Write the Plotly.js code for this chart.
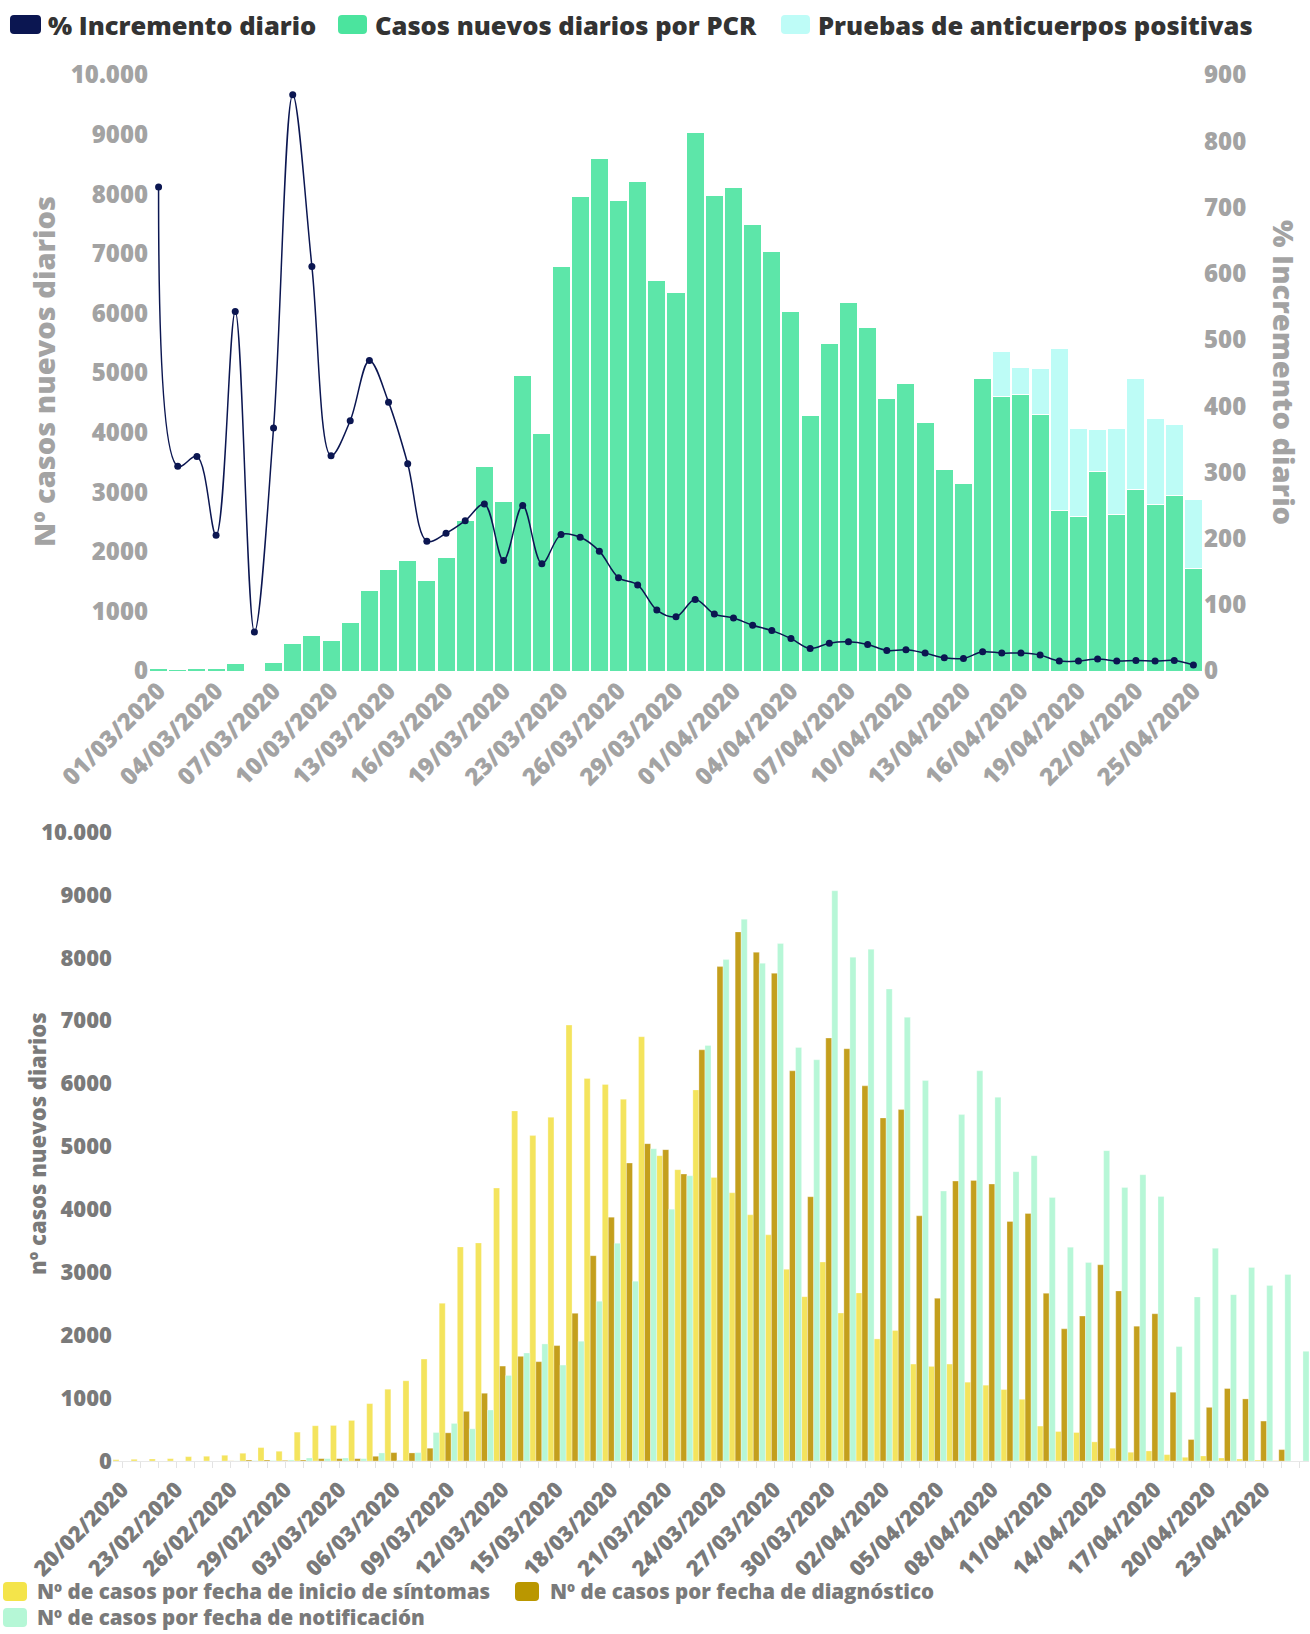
<!DOCTYPE html>
<html>
<head>
<meta charset="utf-8">
<script src="https://cdn.plot.ly/plotly-3.0.1.min.js"></script>
<style>
  html, body { margin: 0; padding: 0; background: #ffffff; }
  #wrap { position: relative; width: 1310px; height: 1634px; overflow: hidden; }
  #top { position: absolute; left: 0; top: 0; width: 1310px; height: 800px; }
  #bottom { position: absolute; left: 0; top: 800px; width: 1310px; height: 834px; }
</style>
</head>
<body>
<div id="wrap">
  <div id="top"></div>
  <div id="bottom"></div>
</div>
<script>
// ---------------- DATA: top chart ----------------
const topDates = [
  '01/03/2020','02/03/2020','03/03/2020','04/03/2020','05/03/2020','06/03/2020','07/03/2020',
  '08/03/2020','09/03/2020','10/03/2020','11/03/2020','12/03/2020','13/03/2020','14/03/2020',
  '15/03/2020','16/03/2020','17/03/2020','18/03/2020','19/03/2020','20/03/2020','21/03/2020',
  '23/03/2020','24/03/2020','25/03/2020','26/03/2020','27/03/2020','28/03/2020','29/03/2020',
  '30/03/2020','31/03/2020','01/04/2020','02/04/2020','03/04/2020','04/04/2020','05/04/2020',
  '06/04/2020','07/04/2020','08/04/2020','09/04/2020','10/04/2020','11/04/2020','12/04/2020',
  '13/04/2020','14/04/2020','15/04/2020','16/04/2020','17/04/2020','18/04/2020','19/04/2020',
  '20/04/2020','21/04/2020','22/04/2020','23/04/2020','24/04/2020','25/04/2020'
];
const topTickLabels = [
  '01/03/2020','04/03/2020','07/03/2020','10/03/2020','13/03/2020','16/03/2020','19/03/2020',
  '23/03/2020','26/03/2020','29/03/2020','01/04/2020','04/04/2020','07/04/2020','10/04/2020',
  '13/04/2020','16/04/2020','19/04/2020','22/04/2020','25/04/2020'
];
const casosPCR = [
  45, 30, 45, 40, 130, 15, 145, 460, 600, 510,
  806, 1350, 1708, 1853, 1517, 1898, 2525, 3438, 2839, 4955,
  3992, 6780, 7956, 8595, 7895, 8208, 6557, 6355, 9043, 7984,
  8119, 7486, 7044, 6036, 4283, 5487, 6187, 5767, 4580, 4832,
  4171, 3387, 3152, 4916, 4608, 4636, 4311, 2688, 2587, 3348,
  2632, 3052, 2800, 2945, 1725
];
const anticuerpos = [
  0, 0, 0, 0, 0, 0, 0, 0, 0, 0,
  0, 0, 0, 0, 0, 0, 0, 0, 0, 0,
  0, 0, 0, 0, 0, 0, 0, 0, 0, 0,
  0, 0, 0, 0, 0, 0, 0, 0, 0, 0,
  0, 0, 0, 0, 750, 448, 762, 2715, 1489, 700,
  1444, 1858, 1439, 1187, 1147
];
const incrementoDiario = [
  731, 309, 324, 205, 543, 59, 367, 870, 611, 325,
  378, 469, 406, 313, 196, 208, 227, 252, 167, 250,
  162, 206, 202, 181, 141, 130, 92, 82, 108, 86,
  80, 69, 61, 49, 34, 42, 44, 40, 31, 32,
  27, 20, 19, 29, 27, 27, 24, 15, 15, 18,
  15, 16, 15, 16, 9
];
const leftTicks = [0, 1000, 2000, 3000, 4000, 5000, 6000, 7000, 8000, 9000, 10000];
const leftTickText = ['0', '1000', '2000', '3000', '4000', '5000', '6000', '7000', '8000', '9000', '10.000'];
const rightTicks = [0, 100, 200, 300, 400, 500, 600, 700, 800, 900];

// ---------------- DATA: bottom chart ----------------
const bottomDates = [
  '20/02/2020','21/02/2020','22/02/2020','23/02/2020','24/02/2020','25/02/2020','26/02/2020',
  '27/02/2020','28/02/2020','29/02/2020','01/03/2020','02/03/2020','03/03/2020','04/03/2020',
  '05/03/2020','06/03/2020','07/03/2020','08/03/2020','09/03/2020','10/03/2020','11/03/2020',
  '12/03/2020','13/03/2020','14/03/2020','15/03/2020','16/03/2020','17/03/2020','18/03/2020',
  '19/03/2020','20/03/2020','21/03/2020','22/03/2020','23/03/2020','24/03/2020','25/03/2020',
  '26/03/2020','27/03/2020','28/03/2020','29/03/2020','30/03/2020','31/03/2020','01/04/2020',
  '02/04/2020','03/04/2020','04/04/2020','05/04/2020','06/04/2020','07/04/2020','08/04/2020',
  '09/04/2020','10/04/2020','11/04/2020','12/04/2020','13/04/2020','14/04/2020','15/04/2020',
  '16/04/2020','17/04/2020','18/04/2020','19/04/2020','20/04/2020','21/04/2020','22/04/2020',
  '23/04/2020','24/04/2020','25/04/2020'
];
const bottomTickLabels = [
  '20/02/2020','23/02/2020','26/02/2020','29/02/2020','03/03/2020','06/03/2020','09/03/2020',
  '12/03/2020','15/03/2020','18/03/2020','21/03/2020','24/03/2020','27/03/2020','30/03/2020',
  '02/04/2020','05/04/2020','08/04/2020','11/04/2020','14/04/2020','17/04/2020','20/04/2020',
  '23/04/2020'
];
const porSintomas = [
  21, 27, 32, 37, 69, 75, 91, 123, 213, 155,
  459, 560, 565, 645, 912, 1141, 1275, 1621, 2507, 3403,
  3467, 4339, 5566, 5173, 5465, 6930, 6081, 5985, 5752, 6745,
  4854, 4631, 5900, 4509, 4264, 3914, 3595, 3048, 2613, 3163,
  2352, 2672, 1941, 2075, 1541, 1504, 1541, 1253, 1205, 1136,
  981, 555, 469, 453, 304, 203, 139, 160, 101, 59,
  80, 48, 32, 16, 5, 0
];
const porDiagnostico = [
  0, 0, 0, 0, 0, 0, 2, 16, 16, 10,
  16, 37, 37, 37, 75, 133, 128, 203, 448, 789,
  1077, 1509, 1664, 1579, 1835, 2347, 3264, 3877, 4737, 5045,
  4950, 4562, 6537, 7860, 8412, 8088, 7754, 6203, 4201, 6724,
  6554, 5964, 5454, 5587, 3898, 2587, 4450, 4461, 4403, 3808,
  3935, 2667, 2101, 2304, 3120, 2704, 2144, 2341, 1093, 341,
  853, 1152, 987, 635, 181, 0
];
const porNotificacion = [
  0, 0, 0, 0, 0, 0, 2, 6, 8, 17,
  48, 37, 48, 37, 128, 11, 133, 453, 597, 512,
  811, 1360, 1717, 1861, 1525, 1904, 2539, 3461, 2859, 4965,
  4004, 4535, 6606, 7971, 8614, 7913, 8226, 6575, 6378, 9065,
  8009, 8136, 7504, 7053, 6049, 4291, 5507, 6203, 5783, 4599,
  4854, 4190, 3399, 3155, 4934, 4349, 4551, 4206, 1819, 2608,
  3381, 2645, 3077, 2789, 2965, 1744
];

// ---------------- helpers ----------------
const FONT = 'Open Sans, Noto Sans, sans-serif';

function makeConv(W, H, m) {
  const pw = W - m.l - m.r, ph = H - m.t - m.b;
  return {
    x: px => (px - m.l) / pw,
    y: py => (H - m.b - py) / ph
  };
}
function roundRect(c, x0, y0, x1, y1, r) {
  const P = (x, y) => c.x(x).toFixed(5) + ',' + c.y(y).toFixed(5);
  return 'M' + P(x0 + r, y0) + ' L' + P(x1 - r, y0) + ' Q' + P(x1, y0) + ' ' + P(x1, y0 + r) +
    ' L' + P(x1, y1 - r) + ' Q' + P(x1, y1) + ' ' + P(x1 - r, y1) +
    ' L' + P(x0 + r, y1) + ' Q' + P(x0, y1) + ' ' + P(x0, y1 - r) +
    ' L' + P(x0, y0 + r) + ' Q' + P(x0, y0) + ' ' + P(x0 + r, y0) + ' Z';
}

// ---------------- TOP CHART ----------------
(function () {
  const W = 1310, H = 800;
  const m = { l: 149, r: 107, t: 75, b: 129, pad: 0 };
  const c = makeConv(W, H, m);

  const traces = [
    {
      type: 'bar', name: 'Casos nuevos diarios por PCR',
      x: topDates, y: casosPCR,
      marker: { color: '#5de6a9', line: { color: '#ffffff', width: 1 } },
      hoverinfo: 'skip'
    },
    {
      type: 'bar', name: 'Pruebas de anticuerpos positivas',
      x: topDates, y: anticuerpos,
      marker: { color: '#bdfcf6', line: { color: '#ffffff', width: 1 } },
      hoverinfo: 'skip'
    },
    {
      type: 'scatter', mode: 'lines+markers', name: '% Incremento diario',
      x: topDates, y: incrementoDiario, yaxis: 'y2',
      line: { color: '#0b1651', width: 1.5, shape: 'spline', smoothing: 1 },
      marker: { color: '#0b1651', size: 7 },
      hoverinfo: 'skip'
    }
  ];

  const legendItems = [
    { sw: [10, 15, 41, 34], color: '#0b1651', tx: 46, text: '% Incremento diario' },
    { sw: [338, 15, 367, 34], color: '#4be49e', tx: 373, text: 'Casos nuevos diarios por PCR' },
    { sw: [781, 15, 810, 34], color: '#befcf7', tx: 816, text: 'Pruebas de anticuerpos positivas' }
  ];
  const shapes = legendItems.map(it => ({
    type: 'path', xref: 'paper', yref: 'paper',
    path: roundRect(c, it.sw[0], it.sw[1], it.sw[2], it.sw[3], 4),
    fillcolor: it.color, line: { width: 0 }
  }));
  const annotations = legendItems.map(it => ({
    xref: 'paper', yref: 'paper', x: c.x(it.tx), y: c.y(25),
    xanchor: 'left', yanchor: 'middle', showarrow: false, text: it.text,
    font: { family: FONT, size: 25.5, color: '#333333', weight: 800 }
  }));
  annotations.push({
    xref: 'paper', yref: 'paper', x: c.x(43), y: c.y(372),
    xanchor: 'center', yanchor: 'middle', showarrow: false, textangle: -90,
    text: 'Nº casos nuevos diarios',
    font: { family: FONT, size: 29, color: '#a3a3a3', weight: 800 }
  });
  annotations.push({
    xref: 'paper', yref: 'paper', x: c.x(1285), y: c.y(372),
    xanchor: 'center', yanchor: 'middle', showarrow: false, textangle: 90,
    text: '% Incremento diario',
    font: { family: FONT, size: 29, color: '#a3a3a3', weight: 800 }
  });

  const layout = {
    width: W, height: H, margin: m,
    paper_bgcolor: '#ffffff', plot_bgcolor: '#ffffff',
    font: { family: FONT, weight: 700, color: '#a3a3a3' },
    barmode: 'stack', bargap: 0.06,
    showlegend: false,
    xaxis: {
      type: 'category', range: [-0.5, topDates.length - 0.5],
      tickmode: 'array', tickvals: topTickLabels, ticktext: topTickLabels,
      tickangle: -45, ticks: '', showgrid: false, zeroline: false, showline: false,
      tickfont: { family: FONT, size: 24, color: '#a3a3a3', weight: 800 }
    },
    yaxis: {
      range: [0, 10000], tickmode: 'array', tickvals: leftTicks, ticktext: leftTickText,
      showgrid: false, zeroline: false, showline: false, ticks: '',
      tickfont: { family: FONT, size: 24, color: '#a3a3a3', weight: 800 }
    },
    yaxis2: {
      overlaying: 'y', side: 'right', range: [0, 900],
      tickmode: 'array', tickvals: rightTicks,
      showgrid: false, zeroline: false, showline: false, ticks: '',
      tickfont: { family: FONT, size: 24, color: '#a3a3a3', weight: 800 }
    },
    shapes: shapes,
    annotations: annotations
  };
  Plotly.newPlot('top', traces, layout, { staticPlot: true, displayModeBar: false });
})();

// ---------------- BOTTOM CHART ----------------
(function () {
  const W = 1310, H = 834;
  const m = { l: 113, r: 1, t: 32, b: 173, pad: 0 };
  const c = makeConv(W, H, m);

  const tickText = bottomDates.map(d => bottomTickLabels.indexOf(d) >= 0 ? d : '');

  const traces = [
    {
      type: 'bar', name: 'Nº de casos por fecha de inicio de síntomas',
      x: bottomDates, y: porSintomas,
      marker: { color: '#f4e45d', line: { color: 'rgba(255,255,255,0.6)', width: 0.5 } },
      hoverinfo: 'skip'
    },
    {
      type: 'bar', name: 'Nº de casos por fecha de diagnóstico',
      x: bottomDates, y: porDiagnostico,
      marker: { color: '#c49f1d', line: { color: 'rgba(255,255,255,0.6)', width: 0.5 } },
      hoverinfo: 'skip'
    },
    {
      type: 'bar', name: 'Nº de casos por fecha de notificación',
      x: bottomDates, y: porNotificacion,
      marker: { color: '#b7f7d7', line: { color: 'rgba(255,255,255,0.6)', width: 0.5 } },
      hoverinfo: 'skip'
    }
  ];

  const legendItems = [
    { sw: [3, 782, 27, 801], color: '#f4e44a', tx: 35, ty: 791, text: 'Nº de casos por fecha de inicio de síntomas' },
    { sw: [515, 782, 539, 801], color: '#ba9700', tx: 548, ty: 791, text: 'Nº de casos por fecha de diagnóstico' },
    { sw: [3, 808, 27, 827], color: '#b5f7d6', tx: 35, ty: 817, text: 'Nº de casos por fecha de notificación' }
  ];
  const shapes = legendItems.map(it => ({
    type: 'path', xref: 'paper', yref: 'paper',
    path: roundRect(c, it.sw[0], it.sw[1], it.sw[2], it.sw[3], 4),
    fillcolor: it.color, line: { width: 0 }
  }));
  const annotations = legendItems.map(it => ({
    xref: 'paper', yref: 'paper', x: c.x(it.tx), y: c.y(it.ty),
    xanchor: 'left', yanchor: 'middle', showarrow: false, text: it.text,
    font: { family: FONT, size: 20.5, color: '#7a7a7a', weight: 800 }
  }));
  annotations.push({
    xref: 'paper', yref: 'paper', x: c.x(37), y: c.y(344),
    xanchor: 'center', yanchor: 'middle', showarrow: false, textangle: -90,
    text: 'nº casos nuevos diarios',
    font: { family: FONT, size: 22, color: '#7a7a7a', weight: 800 }
  });

  const layout = {
    width: W, height: H, margin: m,
    paper_bgcolor: '#ffffff', plot_bgcolor: '#ffffff',
    font: { family: FONT, weight: 700, color: '#7a7a7a' },
    barmode: 'group', bargap: 0, bargroupgap: 0,
    showlegend: false,
    xaxis: {
      type: 'category', range: [-0.5, bottomDates.length - 0.5],
      tickmode: 'array', tickvals: bottomDates, ticktext: tickText,
      tickangle: -45, ticks: 'outside', ticklen: 6, tickwidth: 1, tickcolor: '#e3e3e3',
      showgrid: false, zeroline: false, showline: true, linecolor: '#e8e8e8', linewidth: 1,
      tickfont: { family: FONT, size: 22, color: '#7a7a7a', weight: 800 }
    },
    yaxis: {
      range: [0, 10000], tickmode: 'array', tickvals: leftTicks, ticktext: leftTickText,
      showgrid: false, zeroline: false, showline: false, ticks: '',
      tickfont: { family: FONT, size: 22, color: '#7a7a7a', weight: 800 }
    },
    shapes: shapes,
    annotations: annotations
  };
  Plotly.newPlot('bottom', traces, layout, { staticPlot: true, displayModeBar: false });
})();
</script>
</body>
</html>
